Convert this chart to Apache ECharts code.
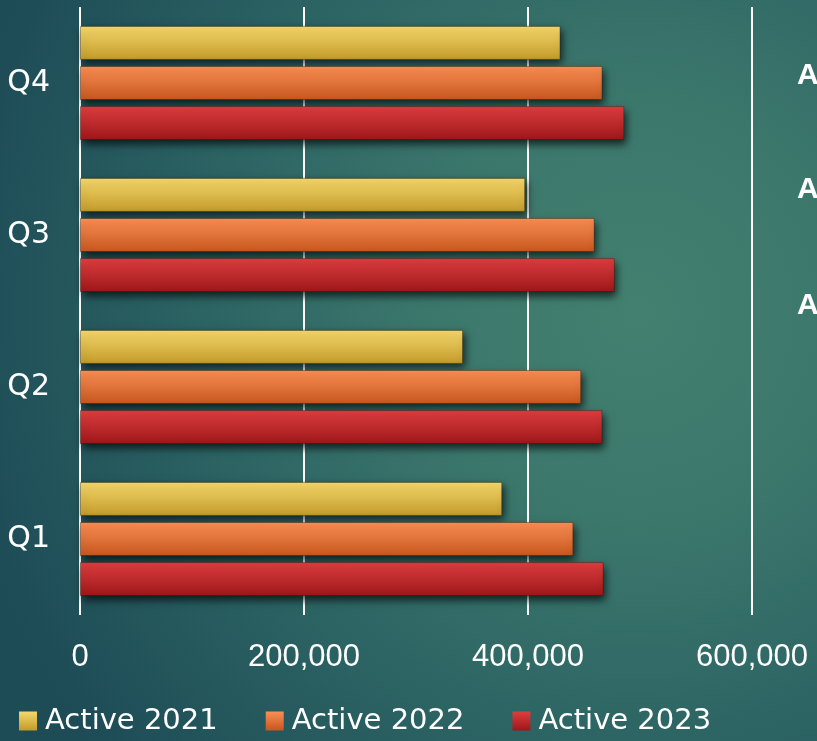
<!DOCTYPE html>
<html>
<head>
<meta charset="utf-8">
<script src="https://cdn.jsdelivr.net/npm/echarts@6/dist/echarts.min.js"></script>
<style>
html,body{margin:0;padding:0;}
#chart{width:817px;height:741px;background:radial-gradient(ellipse 85% 95% at 78% 42%, #43806f 0%, #3c776c 30%, #2d6564 60%, #1d4b56 100%);}
</style>
</head>
<body>
<div id="chart"></div>
<script>
const categories = ['Q1', 'Q2', 'Q3', 'Q4'];
const active2021 = [377000, 342000, 397500, 429000];
const active2022 = [440500, 447500, 459500, 466500];
const active2023 = [467500, 466500, 477500, 486000];
const xTicks = [0, 200000, 400000, 600000];
const seriesNames = ['Active 2021', 'Active 2022', 'Active 2023'];
const sideTexts = ['A', 'A', 'A'];

function grad(top, bottom) {
  return new echarts.graphic.LinearGradient(0, 0, 0, 1, [
    {offset: 0, color: top}, {offset: 1, color: bottom}
  ]);
}
const fills = [grad('#f6d86c', '#c29a2a'), grad('#fa8f56', '#c6571d'), grad('#df3e40', '#9c1719')];
const values = [active2021, active2022, active2023];

const chart = echarts.init(document.getElementById('chart'), null, {renderer: 'canvas'});
const option = {
  backgroundColor: 'transparent',
  animation: false,
  grid: {left: 80, right: 65, top: 7, bottom: 126, containLabel: false},
  legend: {
    left: 19, top: 706, padding: 0, icon: 'rect', itemWidth: 18, itemHeight: 19, itemGap: 48,
    data: seriesNames,
    textStyle: {color: '#ffffff', fontSize: 29, fontFamily: 'DejaVu Sans', lineHeight: 30, padding: [0, 0, 0, 3]},
    itemStyle: {shadowBlur: 0, borderWidth: 0}
  },
  xAxis: {
    type: 'value', min: xTicks[0], max: xTicks[xTicks.length - 1], interval: 200000,
    axisLine: {show: false}, axisTick: {show: false},
    splitLine: {show: true, lineStyle: {color: '#ffffff', width: 2}},
    axisLabel: {
      color: '#ffffff', fontSize: 31, fontFamily: 'Liberation Sans', margin: 27,
      formatter: v => v.toLocaleString('en-US')
    }
  },
  yAxis: {
    type: 'category', data: categories,
    axisLine: {show: false}, axisTick: {show: false}, splitLine: {show: false},
    axisLabel: {color: '#ffffff', fontSize: 30, fontFamily: 'DejaVu Sans', margin: 30}
  },
  series: seriesNames.map((n, i) => ({
    name: n, type: 'bar', data: values[i], barWidth: 34, barGap: '18%',
    itemStyle: {
      color: fills[i], borderColor: 'rgba(40,20,0,0.35)', borderWidth: 1,
      shadowColor: 'rgba(0,0,0,0.7)', shadowBlur: 8, shadowOffsetX: 2, shadowOffsetY: 4
    }
  })),
  graphic: sideTexts.map((t, i) => ({
    type: 'text', left: 797, top: [61, 175, 291][i],
    style: {text: t, fill: '#ffffff', font: 'bold 30px "Liberation Sans"'}
  }))
};
chart.setOption(option);
</script>
</body>
</html>
